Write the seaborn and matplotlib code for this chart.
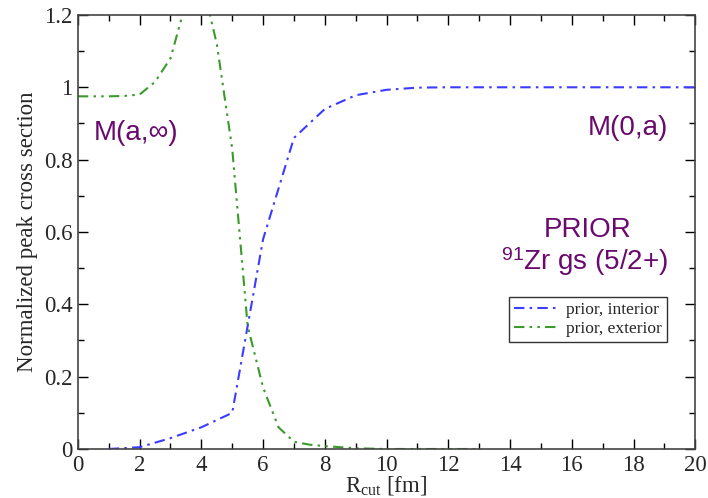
import numpy as np
import pandas as pd
import matplotlib
matplotlib.use("Agg")
import matplotlib.pyplot as plt
import seaborn as sns
from matplotlib.ticker import MultipleLocator

# Data
r_interior = [1, 2, 3, 4, 5, 6, 7, 8, 9, 10, 11, 12, 13, 14, 15, 16, 17, 18, 19, 20]
prior_interior = [0.0, 0.005, 0.03, 0.06, 0.1, 0.58, 0.86, 0.94, 0.978, 0.993, 0.999,
                  1.0, 1.0, 1.0, 1.0, 1.0, 1.0, 1.0, 1.0, 1.0]
r_exterior = [0, 0.5, 1, 1.5, 2, 2.5, 3, 3.5, 4, 4.5, 5, 5.5, 6, 6.5, 7, 7.5, 8, 9, 10, 11, 12, 13]
prior_exterior = [0.975, 0.975, 0.975, 0.976, 0.98, 1.015, 1.08, 1.234, 1.30, 1.12, 0.83,
                  0.34, 0.17, 0.06, 0.02, 0.012, 0.008, 0.002, 0.0, 0.0, 0.0, 0.0]
series_labels = ["prior, interior", "prior, exterior"]

df_int = pd.DataFrame({"R": r_interior, "v": prior_interior})
df_ext = pd.DataFrame({"R": r_exterior, "v": prior_exterior})

sns.set_style("ticks")
plt.rcParams["font.family"] = ["Liberation Serif", "DejaVu Serif"]
plt.rcParams["mathtext.fontset"] = "custom"
plt.rcParams["mathtext.rm"] = "Liberation Serif"
plt.rcParams["mathtext.it"] = "Liberation Serif:italic"
plt.rcParams["mathtext.sf"] = "Liberation Sans"

fig = plt.figure(figsize=(7.08, 4.98), dpi=100)
ax = fig.add_axes([0.110, 0.0984, 0.872, 0.8716])

sns.lineplot(data=df_int, x="R", y="v", ax=ax, color="#3c3cff", lw=1.5,
             label=series_labels[0], sort=False)
sns.lineplot(data=df_ext, x="R", y="v", ax=ax, color="#3a9a2a", lw=1.5,
             label=series_labels[1], sort=False)
lines = ax.get_lines()
lines[0].set_dashes([5, 2.5, 1.2, 2.5])
lines[1].set_dashes([5, 2.5, 1.2, 2.5, 1.2, 2.5])

ax.set_xlim(0, 20)
ax.set_ylim(0, 1.2)
ax.xaxis.set_major_locator(MultipleLocator(2))
ax.xaxis.set_minor_locator(MultipleLocator(1))
ax.yaxis.set_major_locator(MultipleLocator(0.2))
ax.yaxis.set_minor_locator(MultipleLocator(0.1))
ax.tick_params(which="both", direction="in", top=True, right=True, color="black")
ax.tick_params(which="major", length=7, width=1, labelsize=16.5, pad=4)
ax.tick_params(which="minor", length=4, width=1)
ax.yaxis.set_major_formatter(matplotlib.ticker.FuncFormatter(
    lambda v, p: "0" if abs(v) < 1e-9 else ("1" if abs(v - 1) < 1e-9 else f"{v:.1f}")))
for s in ax.spines.values():
    s.set_color("#444444")
    s.set_linewidth(1.2)

ax.set_xlabel(r"R$_{\rm cut}$ [fm]", fontsize=16.5, labelpad=-1)
ax.set_ylabel("Normalized peak cross section", fontsize=16.5, labelpad=4)

purple = "#6a0a6e"
sans = ["Liberation Sans", "DejaVu Sans"]
ax.text(0.5, 0.874, "M(a,∞)", fontsize=20, color=purple, family=sans, va="center", ha="left")
ax.text(19.12, 0.887, "M(0,a)", fontsize=20, color=purple, family=sans, va="center", ha="right")
ax.text(16.5, 0.605, "PRIOR", fontsize=20, color=purple, family=sans, va="center", ha="center")
ax.text(16.4, 0.517, r"$^{\mathsf{91}}$Zr gs (5/2+)", fontsize=20, color=purple, family=sans,
        va="center", ha="center")

leg = ax.legend(loc="lower left", bbox_to_anchor=(0.6985, 0.2465), fontsize=12.5,
                frameon=True, fancybox=False, edgecolor="black", handlelength=2.4,
                borderpad=0.3, labelspacing=0.15, handletextpad=0.6, borderaxespad=0)
leg.get_frame().set_linewidth(1.0)

fig.savefig("out.png", dpi=100)
